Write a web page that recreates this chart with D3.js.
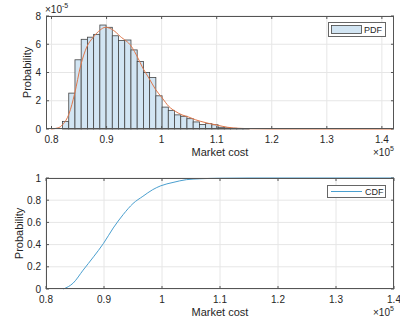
<!DOCTYPE html>
<html>
<head>
<meta charset="utf-8">
<script src="https://cdn.jsdelivr.net/npm/d3@7"></script>
<style>
  body { margin: 0; background: #fff; }
  svg { display: block; font-family: "Liberation Sans", Arial, sans-serif; }
</style>
</head>
<body>
<svg width="400" height="324"></svg>
<script>
// market cost in units of 1e5, probability density in units of 1e-5
const binStart = 0.82;
const binWidth = 0.0113;
const pdfBars = [0.54, 2.54, 4.9, 6.35, 6.5, 6.7, 7.36, 7.2, 6.6, 6.26, 6.3, 5.6,
  4.78, 4.0, 3.65, 2.35, 1.55, 1.32, 1.0, 0.9, 0.73, 0.5, 0.32, 0.38, 0.3, 0.12,
  0.08, 0.05, 0.03, 0.02];

const fitX = [0.799, 0.812, 0.820, 0.832, 0.842, 0.853, 0.864, 0.876, 0.888, 0.898,
  0.912, 0.925, 0.945, 0.956, 0.966, 0.977, 0.989, 1.001, 1.013, 1.025, 1.037,
  1.049, 1.061, 1.070, 1.085, 1.100, 1.120, 1.140, 1.160, 1.200, 1.420];
const fitY = [0, 0.08, 0.3, 1.1, 2.5, 4.5, 5.8, 6.5, 7.0, 7.2,
  7.0, 6.55, 5.85, 5.1, 4.3, 3.6, 2.8, 2.2, 1.6, 1.25, 1.0,
  0.85, 0.66, 0.55, 0.4, 0.28, 0.12, 0.05, 0.02, 0.005, 0];

const cdfX = [0.830, 0.847, 0.864, 0.882, 0.899, 0.916, 0.933, 0.950, 0.967, 0.984,
  0.998, 1.019, 1.042, 1.065, 1.100, 1.150, 1.400];
const cdfY = [0, 0.054, 0.17, 0.29, 0.41, 0.55, 0.67, 0.77, 0.835, 0.895,
  0.93, 0.96, 0.985, 0.993, 0.998, 1.0, 1.0];

const xTicks = [0.8, 0.9, 1.0, 1.1, 1.2, 1.3, 1.4];
const pdfTicks = [0, 2, 4, 6, 8];
const cdfTicks = [0, 0.2, 0.4, 0.6, 0.8, 1];

const svg = d3.select("svg");
svg.append("rect").attr("width", 400).attr("height", 324).attr("fill", "#fff");

const axisColor = "#555";
const gridColor = "#e6e6e6";
const textColor = "#262626";
const fmtX = d => String(+d.toFixed(1));

function frame(x, y, yt, yfmt) {
  const g = svg.append("g");
  const [x0, x1] = x.range(), [y0, y1] = y.range();
  // grid
  g.selectAll(".gx").data(xTicks).join("line")
    .attr("x1", d => x(d)).attr("x2", d => x(d)).attr("y1", y0).attr("y2", y1)
    .attr("stroke", gridColor).attr("stroke-width", 1);
  g.selectAll(".gy").data(yt).join("line")
    .attr("x1", x0).attr("x2", x1).attr("y1", d => y(d)).attr("y2", d => y(d))
    .attr("stroke", gridColor).attr("stroke-width", 1);
  return g;
}

function box(x, y, yt, yfmt) {
  const g = svg.append("g");
  const [x0, x1] = x.range(), [y0, y1] = y.range();
  const tl = 3;
  g.append("rect").attr("x", x0 + 0.5).attr("y", y1 + 0.5)
    .attr("width", x1 - x0 - 1).attr("height", y0 - y1 - 1)
    .attr("fill", "none").attr("stroke", axisColor).attr("stroke-width", 1);
  // inward ticks on all four sides
  g.selectAll(".tb").data(xTicks).join("path")
    .attr("d", d => `M${x(d)},${y0}v${-tl}M${x(d)},${y1}v${tl}`)
    .attr("stroke", axisColor);
  g.selectAll(".tl").data(yt).join("path")
    .attr("d", d => `M${x0},${y(d)}h${tl}M${x1},${y(d)}h${-tl}`)
    .attr("stroke", axisColor);
  g.selectAll(".lx").data(xTicks).join("text")
    .attr("x", d => x(d)).attr("y", y0 + 14)
    .attr("text-anchor", "middle").attr("font-size", 10).attr("fill", textColor)
    .text(fmtX);
  g.selectAll(".ly").data(yt).join("text")
    .attr("x", x0 - 5).attr("y", d => y(d) + 3.5)
    .attr("text-anchor", "end").attr("font-size", 10).attr("fill", textColor)
    .text(yfmt);
  return g;
}

function labels(x, y, ylabX) {
  const [x0, x1] = x.range(), [y0, y1] = y.range();
  svg.append("text").attr("x", (x0 + x1) / 2).attr("y", y0 + 27)
    .attr("text-anchor", "middle").attr("font-size", 11).attr("fill", textColor)
    .text("Market cost");
  svg.append("text")
    .attr("transform", `translate(${ylabX},${(y0 + y1) / 2}) rotate(-90)`)
    .attr("text-anchor", "middle").attr("font-size", 11).attr("fill", textColor)
    .text("Probability");
  const m = svg.append("text").attr("x", x1 - 21).attr("y", y0 + 27)
    .attr("font-size", 10).attr("fill", textColor);
  m.append("tspan").text("\u00d710");
  m.append("tspan").attr("dy", -5).attr("font-size", 7).text("5");
}

// ---------- top: PDF ----------
const x1s = d3.scaleLinear().domain([0.79, 1.422]).range([46, 394]);
const y1s = d3.scaleLinear().domain([0, 8]).range([129, 16]);

frame(x1s, y1s, pdfTicks);

svg.append("g").selectAll("rect").data(pdfBars).join("rect")
  .attr("x", (d, i) => x1s(binStart + i * binWidth))
  .attr("width", x1s(binStart + binWidth) - x1s(binStart))
  .attr("y", d => y1s(d))
  .attr("height", d => y1s(0) - y1s(d))
  .attr("fill", "#d2e5f3")
  .attr("stroke", "#444").attr("stroke-width", 0.8);

const fit = fitX.map((v, i) => [v, fitY[i]]);
svg.append("path").datum(fit)
  .attr("d", d3.line().x(d => x1s(d[0])).y(d => y1s(d[1])).curve(d3.curveMonotoneX))
  .attr("fill", "none").attr("stroke", "#e0774a").attr("stroke-width", 1);

box(x1s, y1s, pdfTicks, d => String(d));
labels(x1s, y1s, 31);

const ex = svg.append("text").attr("x", 45).attr("y", 13)
  .attr("font-size", 10).attr("fill", textColor);
ex.append("tspan").text("\u00d710");
ex.append("tspan").attr("dy", -5).attr("font-size", 7).text("-5");

// legend PDF
const lg1 = svg.append("g");
lg1.append("rect").attr("x", 328.5).attr("y", 22.5).attr("width", 57).attr("height", 14)
  .attr("fill", "#fff").attr("stroke", "#666");
lg1.append("rect").attr("x", 331.5).attr("y", 25.5).attr("width", 30).attr("height", 8)
  .attr("fill", "#d2e5f3").attr("stroke", "#444").attr("stroke-width", 0.8);
lg1.append("text").attr("x", 364).attr("y", 33).attr("font-size", 9).attr("fill", textColor)
  .text("PDF");

// ---------- bottom: CDF ----------
const x2s = d3.scaleLinear().domain([0.8, 1.4]).range([46, 394]);
const y2s = d3.scaleLinear().domain([0, 1]).range([289, 178]);

frame(x2s, y2s, cdfTicks);

const cdf = cdfX.map((v, i) => [v, cdfY[i]]);
svg.append("path").datum(cdf)
  .attr("d", d3.line().x(d => x2s(d[0])).y(d => y2s(d[1])).curve(d3.curveMonotoneX))
  .attr("fill", "none").attr("stroke", "#4a9fcf").attr("stroke-width", 1);

box(x2s, y2s, cdfTicks, d => String(d));
labels(x2s, y2s, 23);

// legend CDF
const lg2 = svg.append("g");
lg2.append("rect").attr("x", 327.5).attr("y", 185.5).attr("width", 58).attr("height", 12)
  .attr("fill", "#fff").attr("stroke", "#666");
lg2.append("line").attr("x1", 331).attr("x2", 362).attr("y1", 191.5).attr("y2", 191.5)
  .attr("stroke", "#4a9fcf").attr("stroke-width", 1);
lg2.append("text").attr("x", 365).attr("y", 195).attr("font-size", 9).attr("fill", textColor)
  .text("CDF");
</script>
</body>
</html>
